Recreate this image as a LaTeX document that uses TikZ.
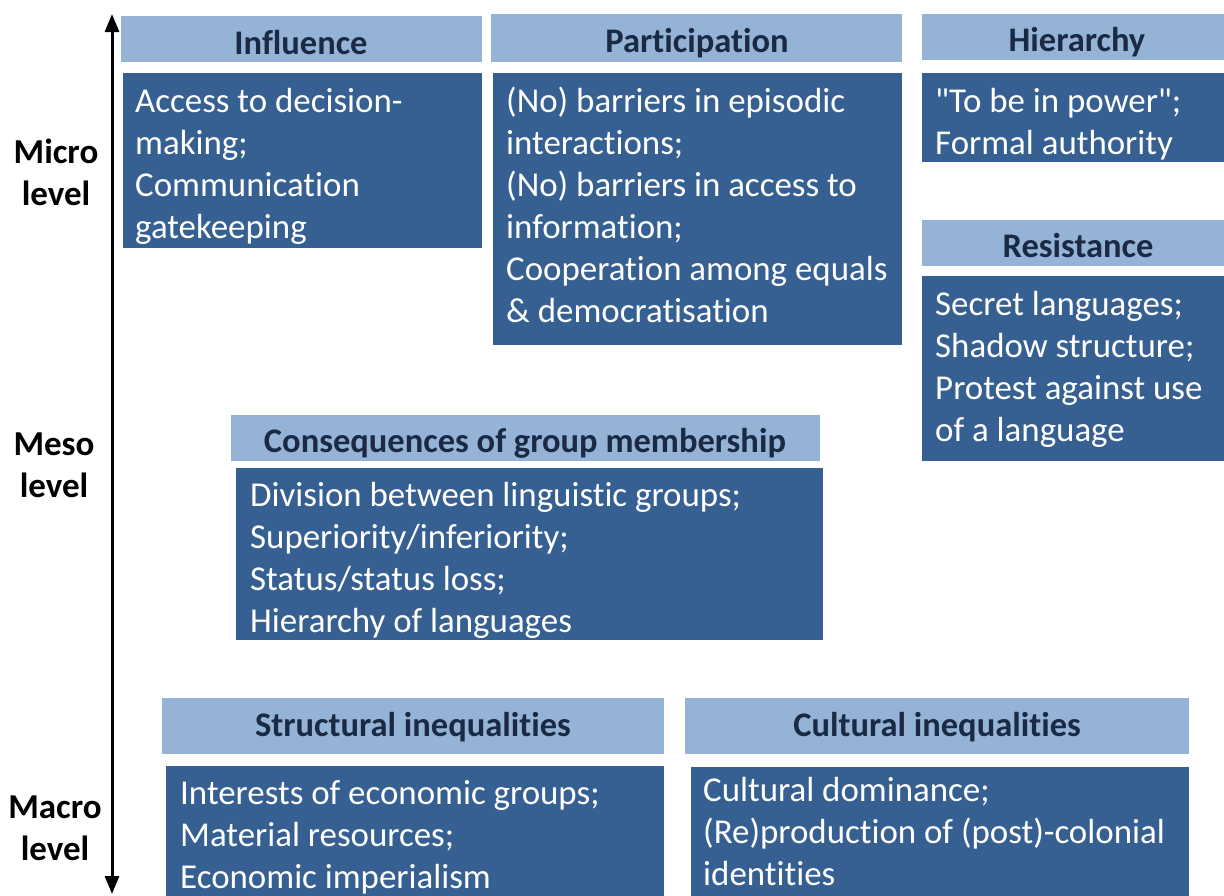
\documentclass[tikz,border=0pt]{standalone}
\usepackage{fontspec}
\setmainfont{Carlito}[Ligatures={TeXOff,NoCommon,NoContextual}]
\usetikzlibrary{arrows.meta}
\definecolor{hdrblue}{HTML}{95B3D7}
\definecolor{bodyblue}{HTML}{376092}
\definecolor{hdrtext}{HTML}{1B2A44}
% first-baseline-aligned block of left-aligned lines
\newcommand{\leftlines}[1]{\begin{tabular}[t]{@{}l@{}}#1\end{tabular}}
\newcommand{\centerlines}[1]{\begin{tabular}[t]{@{}c@{}}#1\end{tabular}}
\tikzset{
  hdrbox/.style={fill=hdrblue, inner sep=0pt, anchor=north west},
  bodybox/.style={fill=bodyblue, inner sep=0pt, anchor=north west},
  hdrlabel/.style={anchor=base, inner sep=0pt, text=hdrtext, font=\bfseries\fontsize{34.5}{42}\selectfont},
  bodytext/.style={anchor=base west, inner sep=0pt, text=white, font=\fontsize{34.9}{42}\selectfont},
  levellabel/.style={anchor=base, inner sep=0pt, text=black, font=\bfseries\fontsize{35}{42}\selectfont},
}
\begin{document}
\begin{tikzpicture}[x=1pt, y=-1pt]
\useasboundingbox (0,0) rectangle (1224,895);

% vertical axis
\coordinate (axtop) at (112,14);
\coordinate (axbot) at (112,894);
\draw[line width=3pt, {Triangle[length=18pt,width=14pt]}-{Triangle[length=18pt,width=14pt]}] (axbot) -- (axtop);

% level labels
\node[levellabel] (micro) at (56,163) {\centerlines{Micro\\level}};
\node[levellabel] (meso) at (54,455) {\centerlines{Meso\\level}};
\node[levellabel] (macro) at (55,818) {\centerlines{Macro\\level}};

% Influence
\node[hdrbox, minimum width=361pt, minimum height=46pt] (hInf) at (121,16) {};
\node[hdrlabel] (lInf) at (301,54) {Influence};
\node[bodybox, minimum width=359pt, minimum height=175pt] (bInf) at (123,73) {};
\node[bodytext] (tInf) at (135,112) {\leftlines{Access to decision-\\making;\\Communication\\gatekeeping}};

% Participation
\node[hdrbox, minimum width=411pt, minimum height=48pt] (hPar) at (491,14) {};
\node[hdrlabel] (lPar) at (697,52) {Participation};
\node[bodybox, minimum width=409pt, minimum height=272pt] (bPar) at (493,73) {};
\node[bodytext] (tPar) at (506,112) {\leftlines{(No) barriers in episodic\\interactions;\\(No) barriers in access to\\information;\\Cooperation among equals\\\& democratisation}};

% Hierarchy
\node[hdrbox, minimum width=310pt, minimum height=46pt] (hHie) at (922,14) {};
\node[hdrlabel] (lHie) at (1077,51) {Hierarchy};
\node[bodybox, minimum width=310pt, minimum height=89pt] (bHie) at (922,73) {};
\node[bodytext] (tHie) at (935,112) {\leftlines{"To be in power";\\Formal authority}};

% Resistance
\node[hdrbox, minimum width=310pt, minimum height=46pt] (hRes) at (922,220) {};
\node[hdrlabel] (lRes) at (1078,257) {Resistance};
\node[bodybox, minimum width=310pt, minimum height=185pt] (bRes) at (922,276) {};
\node[bodytext] (tRes) at (935,315) {\leftlines{Secret languages;\\Shadow structure;\\Protest against use\\of a language}};

% Consequences of group membership
\node[hdrbox, minimum width=589pt, minimum height=46pt] (hCon) at (231,415) {};
\node[hdrlabel] (lCon) at (525,452) {Consequences of group membership};
\node[bodybox, minimum width=587pt, minimum height=172pt] (bCon) at (236,468) {};
\node[bodytext] (tCon) at (250,506) {\leftlines{Division between linguistic groups;\\Superiority/inferiority;\\Status/status loss;\\Hierarchy of languages}};

% Structural inequalities
\node[hdrbox, minimum width=502pt, minimum height=56pt] (hStr) at (162,698) {};
\node[hdrlabel] (lStr) at (413,736) {Structural inequalities};
\node[bodybox, minimum width=498pt, minimum height=140pt] (bStr) at (166,766) {};
\node[bodytext] (tStr) at (180,804) {\leftlines{Interests of economic groups;\\Material resources;\\Economic imperialism}};

% Cultural inequalities
\node[hdrbox, minimum width=504pt, minimum height=56pt] (hCul) at (685,698) {};
\node[hdrlabel] (lCul) at (937,736) {Cultural inequalities};
\node[bodybox, minimum width=498pt, minimum height=140pt] (bCul) at (691,767) {};
\node[bodytext] (tCul) at (703,801) {\leftlines{Cultural dominance;\\(Re)production of (post)-colonial\\identities}};
\end{tikzpicture}
\end{document}
